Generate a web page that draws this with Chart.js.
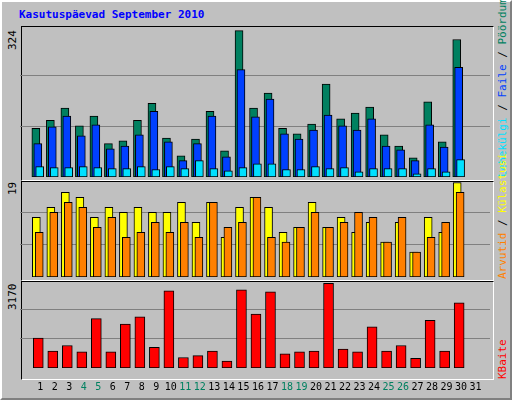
<!DOCTYPE html>
<html>
<head>
<meta charset="utf-8">
<script src="https://cdn.jsdelivr.net/npm/chart.js@4"></script>
<style>
  body { margin: 0; background: #fff; }
  #frame { position: absolute; left: 0; top: 0; background: #c0c0c0;
    border-top: 2px solid #fff; border-left: 2px solid #fff; border-right: 2px solid #808080; border-bottom: 2px solid #808080;
    box-sizing: border-box; width: 512px; height: 400px; font-family: "DejaVu Sans Mono", monospace; }
  .panel { position: absolute; border-top: 1px solid #000; border-left: 1px solid #000;
    border-right: 1px solid #fff; border-bottom: 1px solid #fff; }
  canvas { position: absolute; }
  .lbl { position: absolute; font-size: 11px; white-space: nowrap; transform-origin: 0 0; transform: rotate(-90deg); }
  #title { position: absolute; left: 17px; top: 6px; color: #0000ff; font-weight: bold; font-size: 11px; }
</style>
</head>
<body>
<div id="frame">
  <div id="title">Kasutuspäevad September 2010</div>
  <div class="panel" style="left:19px;top:24px;width:471px;height:153px"></div>
  <div class="panel" style="left:19px;top:179px;width:471px;height:98px"></div>
  <div class="panel" style="left:19px;top:279px;width:471px;height:97px"></div>
  <div class="lbl" style="left:4px;top:48px">324</div>
  <div class="lbl" style="left:4px;top:193px">19</div>
  <div class="lbl" style="left:4px;top:308px">3170</div>
  <div class="lbl" style="left:494px;top:175px"><span style="color:#00e0ff">Lehekülgi</span> / <span style="color:#0040ff">Faile</span> / <span style="color:#008060">Pöördumisi</span></div>
  <div class="lbl" style="left:494px;top:277px"><span style="color:#ff8000">Arvutid</span> / <span style="color:#ffff00">Külastusi</span></div>
  <div class="lbl" style="left:494px;top:377px;color:#ff0000">KBaite</div>
</div>
<canvas id="c1" style="left:20px;top:25px;width:470px;height:152px"></canvas>
<canvas id="c2" style="left:20px;top:180px;width:470px;height:97px"></canvas>
<canvas id="c3" style="left:20px;top:280px;width:470px;height:118px"></canvas>
<script>
const days = Array.from({ length: 31 }, (_, i) => i + 1);
const weekend = [4, 5, 11, 12, 18, 19, 25, 26];
const hits = [104, 121, 147, 109, 130, 71, 77, 121, 157, 83, 45, 81, 140, 56, 312, 147, 179, 104, 92, 113, 198, 124, 136, 149, 90, 66, 41, 160, 75, 293, 0];
const files = [71, 107, 130, 88, 111, 60, 66, 90, 140, 75, 35, 71, 130, 43, 229, 128, 166, 92, 81, 100, 132, 109, 100, 124, 66, 58, 35, 111, 64, 234, 0];
const pages = [22, 20, 20, 22, 20, 18, 18, 22, 16, 22, 18, 35, 18, 13, 20, 28, 28, 16, 16, 22, 18, 20, 11, 18, 18, 18, 7, 18, 11, 37, 0];
const visits = [12, 14, 17, 16, 12, 14, 13, 14, 13, 13, 15, 11, 15, 8, 14, 16, 14, 9, 10, 15, 10, 12, 9, 11, 7, 11, 5, 12, 9, 19, 0];
const sites = [9, 13, 15, 14, 10, 12, 8, 9, 11, 9, 11, 8, 15, 10, 11, 16, 8, 7, 10, 13, 10, 11, 13, 12, 7, 12, 5, 8, 11, 17, 0];
const kbytes = [1078, 612, 812, 578, 1780, 578, 1580, 1846, 745, 2780, 378, 445, 612, 245, 2813, 1946, 2747, 512, 578, 612, 3047, 678, 578, 1480, 612, 812, 345, 1713, 612, 2346, 0];

// one day = 15 px; offsets move the overlapping bars like webalizer does
const px = 1 / 15;
function series(values, off, color, width, order) {
  return {
    data: days.map((d, i) => ({ x: d + off * px, y: values[i] })),
    backgroundColor: color, borderColor: "#000", borderWidth: 1,
    barThickness: width, grouped: false, borderSkipped: false, order,
  };
}

function panel(id, datasets, max, showX) {
  return new Chart(document.getElementById(id), {
    type: "bar",
    data: { datasets },
    options: {
      responsive: false, animation: false,
      layout: { padding: 0 },
      plugins: { legend: { display: false }, tooltip: { enabled: false } },
      scales: {
        x: {
          type: "linear", min: 0.13, max: 31.47, display: showX,
          grid: { display: false }, border: { display: false },
          afterBuildTicks: (s) => { s.ticks = days.map((d) => ({ value: d })); },
          ticks: {
            autoSkip: false, maxRotation: 0, padding: 5,
            font: { family: "DejaVu Sans Mono", size: 10 },
            color: (ctx) => (weekend.includes(ctx.tick.value) ? "#008060" : "#000"),
          },
        },
        y: {
          min: 0, max, display: true,
          afterBuildTicks: (s) => { s.ticks = [{ value: max / 3 }, { value: (2 * max) / 3 }]; },
          ticks: { display: false },
          grid: { color: "#808080", lineWidth: 1, drawTicks: false },
          border: { display: false },
        },
      },
    },
  });
}

for (const id of ["c1", "c2", "c3"]) {
  const c = document.getElementById(id);
  c.width = parseInt(c.style.width); c.height = parseInt(c.style.height);
}

panel("c1", [
  series(hits, -4.5, "#008060", 8, 3),
  series(files, -2.5, "#0040ff", 8, 2),
  series(pages, -0.5, "#00e0ff", 8, 1),
], 324, false);

panel("c2", [
  series(visits, -4, "#ffff00", 8, 2),
  series(sites, -1, "#ff8000", 8, 1),
], 19.5, false);

panel("c3", [
  series(kbytes, -2, "#ff0000", 10, 1),
], 3170, true);
</script>
</body>
</html>
